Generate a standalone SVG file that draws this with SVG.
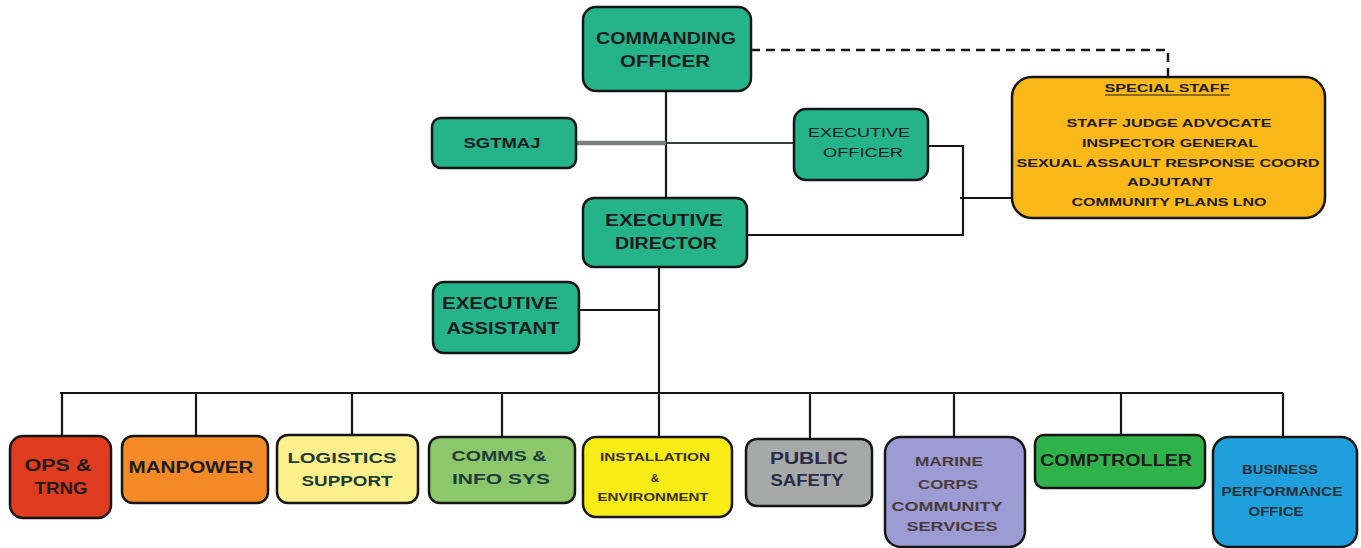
<svg xmlns="http://www.w3.org/2000/svg" width="1361" height="548" viewBox="0 0 1361 548">
<style>
.box{stroke:#151515;stroke-width:2.5}
.t{font-family:"Liberation Sans",Arial,sans-serif;font-weight:bold;text-anchor:middle;fill:#1c1c1c}
.big{font-size:16px}
.mid{font-size:15px}
.sm{font-size:11.5px}
.teal{fill:#25b38a}
.ln{stroke:#151515;stroke-width:2.2;fill:none}
</style>
<rect width="1361" height="548" fill="#ffffff"/>
<g id="connectors">
<path class="ln" d="M666 91V198"/>
<path d="M751 50H1168V77" fill="none" stroke="#151515" stroke-width="2.5" stroke-dasharray="9,6"/>
<path d="M576 143H666" fill="none" stroke="#7a7d7d" stroke-width="4.5"/>
<path d="M666 143H794" fill="none" stroke="#3a3d3d" stroke-width="2.2"/>
<path class="ln" d="M928 146H963V235H747"/>
<path class="ln" d="M960 198H1012"/>
<path class="ln" d="M659 267V437"/>
<path class="ln" d="M579 310H659"/>
<path class="ln" d="M60 393H1283"/>
<path class="ln" d="M62 393V436M196 393V436M352 393V435M502 393V437M810 393V439M954 393V437M1121 393V435M1283 393V437"/>
</g>
<g id="commanding-officer">
<rect class="box teal" x="583" y="7" width="168" height="84" rx="13"/>
<text class="t big" x="666" y="44" textLength="140" lengthAdjust="spacingAndGlyphs">COMMANDING</text>
<text class="t big" x="665" y="67" textLength="90" lengthAdjust="spacingAndGlyphs">OFFICER</text>
</g>
<g id="special-staff">
<rect class="box" x="1012" y="77" width="313" height="141" rx="20" fill="#fbb819"/>
<text class="t sm" x="1167" y="92" textLength="125" lengthAdjust="spacingAndGlyphs">SPECIAL STAFF</text>
<path d="M1105 95H1230" stroke="#1c1c1c" stroke-width="1.2"/>
<text class="t sm" x="1169" y="127" textLength="205" lengthAdjust="spacingAndGlyphs">STAFF JUDGE ADVOCATE</text>
<text class="t sm" x="1170" y="147" textLength="176" lengthAdjust="spacingAndGlyphs">INSPECTOR GENERAL</text>
<text class="t sm" x="1168" y="167" textLength="303" lengthAdjust="spacingAndGlyphs">SEXUAL ASSAULT RESPONSE COORD</text>
<text class="t sm" x="1170" y="186" textLength="86" lengthAdjust="spacingAndGlyphs">ADJUTANT</text>
<text class="t sm" x="1169" y="206" textLength="195" lengthAdjust="spacingAndGlyphs">COMMUNITY PLANS LNO</text>
</g>
<g id="sgtmaj">
<rect class="box teal" x="432" y="118" width="144" height="50" rx="9"/>
<text class="t mid" x="502" y="148" textLength="77" lengthAdjust="spacingAndGlyphs">SGTMAJ</text>
</g>
<g id="executive-officer">
<rect class="box teal" x="794" y="109" width="134" height="71" rx="12"/>
<text class="t" style="font-size:12px;font-weight:normal" x="859" y="137" textLength="102" lengthAdjust="spacingAndGlyphs">EXECUTIVE</text>
<text class="t" style="font-size:12px;font-weight:normal" x="863" y="157" textLength="80" lengthAdjust="spacingAndGlyphs">OFFICER</text>
</g>
<g id="executive-director">
<rect class="box teal" x="583" y="198" width="164" height="69" rx="11"/>
<text class="t big" x="664" y="226" textLength="118" lengthAdjust="spacingAndGlyphs">EXECUTIVE</text>
<text class="t big" x="666" y="249" textLength="102" lengthAdjust="spacingAndGlyphs">DIRECTOR</text>
</g>
<g id="executive-assistant">
<rect class="box teal" x="433" y="282" width="146" height="71" rx="11"/>
<text class="t big" x="500" y="309" textLength="116" lengthAdjust="spacingAndGlyphs">EXECUTIVE</text>
<text class="t big" x="503" y="334" textLength="113" lengthAdjust="spacingAndGlyphs">ASSISTANT</text>
</g>
<g id="ops-trng">
<rect class="box" x="10" y="436" width="101" height="82" rx="13" fill="#df3b1f"/>
<text class="t big" x="58" y="471" textLength="67" lengthAdjust="spacingAndGlyphs">OPS &amp;</text>
<text class="t big" x="61" y="494" textLength="53" lengthAdjust="spacingAndGlyphs">TRNG</text>
</g>
<g id="manpower">
<rect class="box" x="122" y="436" width="146" height="67" rx="11" fill="#f48a25"/>
<text class="t big" x="191" y="473" textLength="125" lengthAdjust="spacingAndGlyphs">MANPOWER</text>
</g>
<g id="logistics-support">
<rect class="box" x="277" y="435" width="141" height="68" rx="11" fill="#fcf08c"/>
<text class="t mid" x="342" y="463" textLength="109" lengthAdjust="spacingAndGlyphs" style="fill:#1d3d3a">LOGISTICS</text>
<text class="t mid" x="347" y="486" textLength="91" lengthAdjust="spacingAndGlyphs" style="fill:#1d3d3a">SUPPORT</text>
</g>
<g id="comms-info-sys">
<rect class="box" x="429" y="437" width="146" height="66" rx="11" fill="#8dc76b"/>
<text class="t mid" x="499" y="461" textLength="95" lengthAdjust="spacingAndGlyphs" style="fill:#1d3d3a">COMMS &amp;</text>
<text class="t mid" x="501" y="484" textLength="98" lengthAdjust="spacingAndGlyphs" style="fill:#1d3d3a">INFO SYS</text>
</g>
<g id="installation-environment">
<rect class="box" x="583" y="437" width="149" height="80" rx="13" fill="#f8ec16"/>
<text class="t sm" x="655" y="461" textLength="110" lengthAdjust="spacingAndGlyphs" style="fill:#3a2d1a">INSTALLATION</text>
<text class="t sm" x="655" y="482" style="fill:#3a2d1a">&amp;</text>
<text class="t sm" x="653" y="501" textLength="111" lengthAdjust="spacingAndGlyphs" style="fill:#3a2d1a">ENVIRONMENT</text>
</g>
<g id="public-safety">
<rect class="box" x="746" y="439" width="126" height="67" rx="11" fill="#a6a9a7"/>
<text class="t big" x="809" y="464" textLength="78" lengthAdjust="spacingAndGlyphs" style="fill:#2a2a4a">PUBLIC</text>
<text class="t big" x="807" y="486" textLength="73" lengthAdjust="spacingAndGlyphs" style="fill:#2a2a4a">SAFETY</text>
</g>
<g id="marine-corps-community-services">
<rect class="box" x="885" y="437" width="140" height="110" rx="16" fill="#9c9bd3"/>
<text class="t" style="font-size:12px;fill:#4a3a3a" x="949" y="466" textLength="68" lengthAdjust="spacingAndGlyphs">MARINE</text>
<text class="t" style="font-size:12px;fill:#4a3a3a" x="948" y="489" textLength="60" lengthAdjust="spacingAndGlyphs">CORPS</text>
<text class="t" style="font-size:12px;fill:#4a3a3a" x="947" y="511" textLength="111" lengthAdjust="spacingAndGlyphs">COMMUNITY</text>
<text class="t" style="font-size:12px;fill:#4a3a3a" x="952" y="531" textLength="91" lengthAdjust="spacingAndGlyphs">SERVICES</text>
</g>
<g id="comptroller">
<rect class="box" x="1035" y="435" width="170" height="53" rx="9" fill="#30b24b"/>
<text class="t big" x="1116" y="466" textLength="152" lengthAdjust="spacingAndGlyphs">COMPTROLLER</text>
</g>
<g id="business-performance-office">
<rect class="box" x="1213" y="437" width="144" height="110" rx="16" fill="#1fa0dc"/>
<text class="t" style="font-size:12px;fill:#2a2f36" x="1280" y="474" textLength="76" lengthAdjust="spacingAndGlyphs">BUSINESS</text>
<text class="t" style="font-size:12px;fill:#2a2f36" x="1282" y="496" textLength="121" lengthAdjust="spacingAndGlyphs">PERFORMANCE</text>
<text class="t" style="font-size:12px;fill:#2a2f36" x="1276" y="516" textLength="55" lengthAdjust="spacingAndGlyphs">OFFICE</text>
</g>
</svg>
